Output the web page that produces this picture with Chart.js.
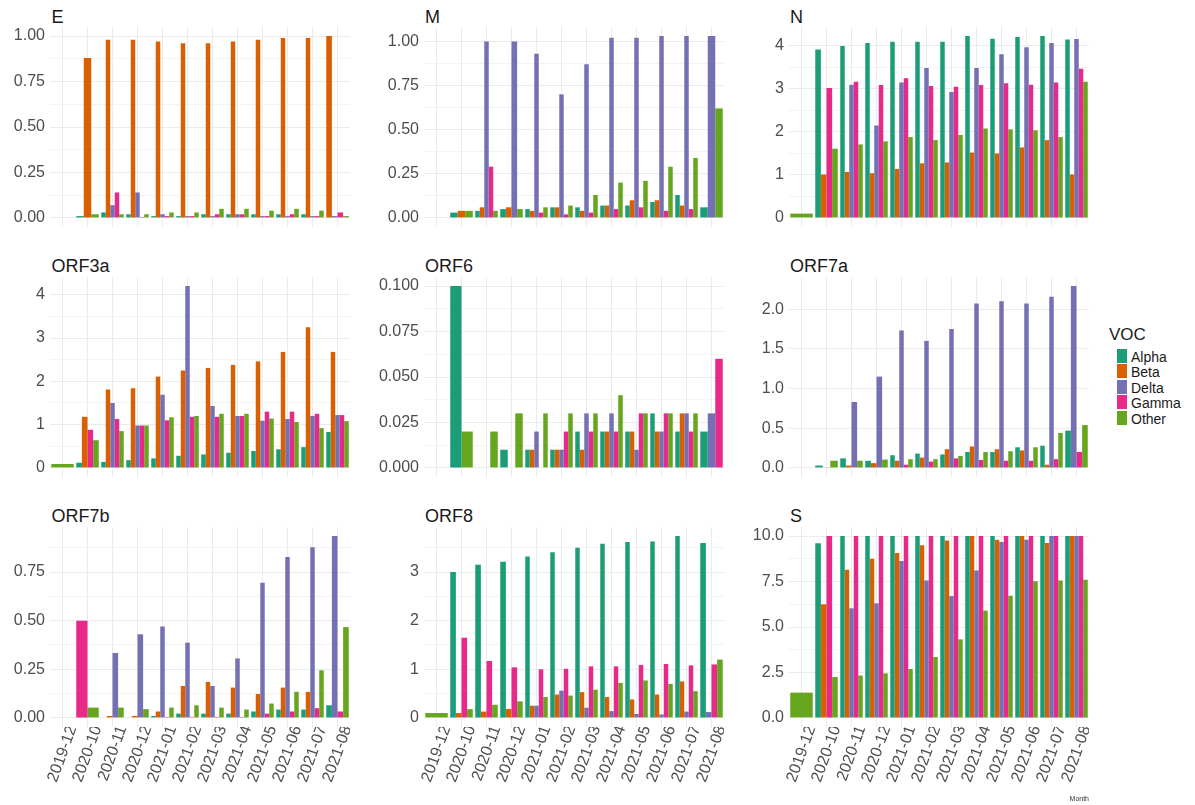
<!DOCTYPE html>
<html>
<head>
<meta charset="utf-8">
<script src="https://cdn.jsdelivr.net/npm/chart.js@4.4.1/dist/chart.umd.min.js"></script>
<style>
  body { margin: 0; background: #fff; }
  #page { position: relative; width: 1195px; height: 805px; overflow: hidden; font-family: "Liberation Sans", Arial, sans-serif; }
  .title { position: absolute; font-size: 18px; line-height: 18px; color: #1a1a1a; white-space: nowrap; }
  canvas { position: absolute; }
  .legtitle { position: absolute; left: 1109px; top: 326px; font-size: 17px; line-height: 17px; color: #1a1a1a; }
  .key { position: absolute; left: 1117px; width: 10px; height: 14px; }
  .klab { position: absolute; left: 1131px; font-size: 14px; line-height: 14px; color: #1a1a1a; }
</style>
</head>
<body>
<div id="page"></div>
<script>
// months on the x axis
const months = ['2019-12', '2020-10', '2020-11', '2020-12', '2021-01', '2021-02',
                '2021-03', '2021-04', '2021-05', '2021-06', '2021-07', '2021-08'];
const voc = ['Alpha', 'Beta', 'Delta', 'Gamma', 'Other'];
const vocColors = ['#1B9E77', '#D95F02', '#7570B3', '#E7298A', '#66A61E'];
const n = null; // no bar for this VOC in that month

// one row per VOC: Alpha, Beta, Delta, Gamma, Other
const geneE = [
  [n, 0.01, 0.03, 0.02, 0.01, 0.01, 0.02, 0.02, 0.02, 0.02, 0.02, n],
  [n, 0.88, 0.98, 0.98, 0.97, 0.96, 0.96, 0.97, 0.98, 0.99, 0.99, 1.00],
  [n, n, 0.07, 0.14, 0.02, 0.01, 0.01, 0.02, 0.01, 0.01, 0.01, 0.01],
  [n, n, 0.14, 0.005, 0.01, 0.01, 0.02, 0.02, 0.01, 0.02, 0.01, 0.03],
  [n, 0.02, 0.02, 0.02, 0.03, 0.03, 0.05, 0.05, 0.04, 0.05, 0.04, 0.01]
];
const geneM = [
  [n, 0.03, 0.04, 0.05, 0.05, 0.06, 0.06, 0.07, 0.07, 0.09, 0.13, 0.06],
  [n, 0.04, 0.06, 0.06, 0.04, 0.06, 0.04, 0.07, 0.10, 0.10, 0.07, n],
  [n, n, 1.00, 1.00, 0.93, 0.70, 0.87, 1.02, 1.02, 1.03, 1.03, 1.03],
  [n, n, 0.29, n, 0.03, 0.02, 0.03, 0.05, 0.06, 0.04, 0.05, n],
  [n, 0.04, 0.04, 0.05, 0.06, 0.07, 0.13, 0.20, 0.21, 0.29, 0.34, 0.62]
];
const geneN = [
  [n, 3.92, 4.00, 4.07, 4.10, 4.10, 4.10, 4.23, 4.17, 4.21, 4.23, 4.15],
  [n, 1.01, 1.07, 1.04, 1.14, 1.27, 1.29, 1.52, 1.50, 1.64, 1.81, 1.01],
  [n, n, 3.10, 2.15, 3.15, 3.49, 2.93, 3.49, 3.81, 3.97, 4.07, 4.16],
  [n, 3.02, 3.17, 3.09, 3.25, 3.07, 3.05, 3.09, 3.13, 3.10, 3.15, 3.47],
  [0.1, 1.61, 1.71, 1.78, 1.88, 1.81, 1.93, 2.08, 2.06, 2.04, 1.88, 3.17]
];
const geneORF3a = [
  [n, 0.12, 0.14, 0.18, 0.22, 0.28, 0.31, 0.35, 0.39, 0.43, 0.48, 0.83],
  [n, 1.18, 1.81, 1.84, 2.11, 2.25, 2.31, 2.38, 2.46, 2.68, 3.25, 2.68],
  [n, n, 1.50, 0.98, 1.69, 4.20, 1.43, 1.20, 1.09, 1.13, 1.20, 1.22],
  [n, 0.88, 1.13, 0.98, 1.10, 1.18, 1.18, 1.20, 1.30, 1.30, 1.25, 1.22],
  [0.09, 0.64, 0.85, 0.98, 1.17, 1.20, 1.25, 1.25, 1.14, 1.06, 0.92, 1.08]
];
const geneORF6 = [
  [n, 0.10, 0, 0.01, 0.01, 0.01, 0.02, 0.02, 0.02, 0.03, 0.02, 0.02],
  [n, n, n, n, 0.01, 0.01, 0.01, 0.02, 0.02, 0.02, 0.03, n],
  [n, n, 0, 0, 0.02, 0.01, 0.03, 0.03, 0.01, 0.02, 0.03, 0.03],
  [n, n, n, n, 0, 0.02, 0.02, 0.02, 0.03, 0.03, 0.02, 0.06],
  [n, 0.02, 0.02, 0.03, 0.03, 0.03, 0.03, 0.04, 0.03, 0.03, 0.03, n]
];
const geneORF7a = [
  [n, 0.03, 0.12, 0.09, 0.16, 0.18, 0.17, 0.20, 0.20, 0.26, 0.28, 0.47],
  [n, 0.005, 0.03, 0.06, 0.09, 0.13, 0.235, 0.27, 0.235, 0.22, 0.04, n],
  [n, n, 0.83, 1.15, 1.73, 1.60, 1.75, 2.07, 2.10, 2.07, 2.155, 2.29],
  [n, n, n, n, 0.04, 0.08, 0.12, 0.10, 0.09, 0.09, 0.11, 0.20],
  [n, 0.09, 0.09, 0.105, 0.11, 0.11, 0.15, 0.20, 0.21, 0.26, 0.44, 0.54]
];
const geneORF7b = [
  [n, n, 0, 0, 0.01, 0.022, 0.022, 0.022, 0.033, 0.043, 0.043, 0.065],
  [n, n, 0.01, 0.01, 0.033, 0.164, 0.185, 0.156, 0.123, 0.156, 0.134, n],
  [n, n, 0.334, 0.43, 0.47, 0.387, 0.164, 0.306, 0.695, 0.827, 0.877, 0.935],
  [n, 0.50, n, n, 0.005, 0.005, 0.005, 0.005, 0.022, 0.033, 0.05, 0.033],
  [n, 0.053, 0.053, 0.045, 0.053, 0.065, 0.053, 0.043, 0.074, 0.134, 0.245, 0.467]
];
const geneORF8 = [
  [n, 3.00, 3.15, 3.21, 3.32, 3.41, 3.50, 3.58, 3.62, 3.63, 3.74, 3.60],
  [n, 0.10, 0.13, 0.185, 0.25, 0.48, 0.53, 0.43, 0.38, 0.48, 0.75, n],
  [n, n, n, n, 0.25, 0.56, 0.21, 0.14, 0.08, 0.07, 0.13, 0.12],
  [n, 1.65, 1.17, 1.04, 1.00, 1.01, 1.06, 1.06, 1.09, 1.11, 1.08, 1.10],
  [0.1, 0.18, 0.27, 0.34, 0.43, 0.46, 0.58, 0.72, 0.77, 0.70, 0.55, 1.20]
];
const geneS = [
  [n, 9.6, 10, 10, 10, 10, 10, 10, 10, 10, 10, 10],
  [n, 6.25, 8.15, 8.75, 9.07, 9.5, 9.76, 10, 9.8, 10, 9.62, 10],
  [n, n, 6.03, 6.3, 8.63, 7.56, 6.7, 8.11, 9.67, 9.8, 10, 10],
  [n, 10, 10, 10, 10, 10, 10, 10, 10, 10, 10, 10],
  [1.39, 2.25, 2.33, 2.45, 2.69, 3.35, 4.32, 5.9, 6.72, 7.51, 7.56, 7.6]
];

// facet grid: name, values, minor step, label decimals
const panels = [
  ['E', geneE, 0.125, 2], ['M', geneM, 0.125, 2], ['N', geneN, 0.5, 0],
  ['ORF3a', geneORF3a, 0.5, 0], ['ORF6', geneORF6, 0.0125, 3], ['ORF7a', geneORF7a, 0.25, 1],
  ['ORF7b', geneORF7b, 0.125, 2], ['ORF8', geneORF8, 0.5, 0], ['S', geneS, 1.25, 1]
];

const page = document.getElementById('page');
const FONT = '"Liberation Sans", Arial, sans-serif';
const colLeft = [50, 424, 789];   // left edge of each panel
const rowTop = [27, 277, 527];    // top edge of each panel
const titleLeft = [51.5, 425, 790];
const titleTop = [7.5, 256.5, 506.5];
const panelW = 300, panelH = 200, axisW = 50;

panels.forEach(function (p, k) {
  const name = p[0], vals = p[1], step = p[2], digits = p[3];
  const col = k % 3, row = Math.floor(k / 3);
  const bottomRow = row === 2;
  const h = bottomRow ? 805 - rowTop[row] : panelH;

  const t = document.createElement('div');
  t.className = 'title';
  t.textContent = name;
  t.style.left = titleLeft[col] + 'px';
  t.style.top = titleTop[row] + 'px';
  page.appendChild(t);

  const cv = document.createElement('canvas');
  cv.width = axisW + panelW;
  cv.height = h;
  cv.style.left = (colLeft[col] - axisW) + 'px';
  cv.style.top = rowTop[row] + 'px';
  cv.style.width = cv.width + 'px';
  cv.style.height = h + 'px';
  page.appendChild(cv);

  const peak = Math.max.apply(null, vals.flat().filter(v => v !== null));
  const isMinor = v => Math.round(v / step) % 2 !== 0;

  new Chart(cv, {
    type: 'bar',
    data: {
      labels: months,
      datasets: voc.map((v, i) => ({
        label: v,
        data: vals[i],
        backgroundColor: vocColors[i],
        borderWidth: 0,
        skipNull: true,
        categoryPercentage: 0.9,
        barPercentage: 1.0
      }))
    },
    options: {
      responsive: false,
      animation: false,
      devicePixelRatio: 1,
      layout: { padding: 0 },
      plugins: { legend: { display: false }, tooltip: { enabled: false } },
      scales: {
        x: {
          grid: { offset: false, color: '#EBEBEB', drawTicks: false },
          border: { display: false },
          ticks: {
            display: bottomRow, autoSkip: false, minRotation: 70, maxRotation: 70,
            padding: -4, labelOffset: 10, color: '#4D4D4D', font: { size: 16, family: FONT }
          },
          title: {
            display: name === 'S', text: 'Month', align: 'end', color: '#333',
            font: { size: 7, family: FONT }, padding: { top: 0, bottom: 2 }
          },
          afterFit: s => { s.height = h - panelH; s.paddingLeft = 0; s.paddingRight = 0; }
        },
        y: {
          min: -0.05 * peak,
          max: 1.05 * peak,
          border: { display: false },
          grid: {
            drawTicks: false,
            color: c => isMinor(c.tick.value) ? '#F3F3F3' : '#EBEBEB'
          },
          ticks: {
            stepSize: step, maxTicksLimit: 50, includeBounds: false, padding: 5,
            color: '#4D4D4D', font: { size: 16, family: FONT },
            callback: v => isMinor(v) ? '' : Number(v).toFixed(digits)
          },
          afterFit: s => { s.width = axisW; s.paddingTop = 0; s.paddingBottom = 0; }
        }
      }
    }
  });
});

// legend
const lt = document.createElement('div');
lt.className = 'legtitle';
lt.textContent = 'VOC';
page.appendChild(lt);
voc.forEach(function (v, i) {
  const key = document.createElement('div');
  key.className = 'key';
  key.style.top = (348.5 + i * 15.6) + 'px';
  key.style.background = vocColors[i];
  page.appendChild(key);
  const lab = document.createElement('div');
  lab.className = 'klab';
  lab.style.top = (350 + i * 15.4) + 'px';
  lab.textContent = v;
  page.appendChild(lab);
});
</script>
</body>
</html>
